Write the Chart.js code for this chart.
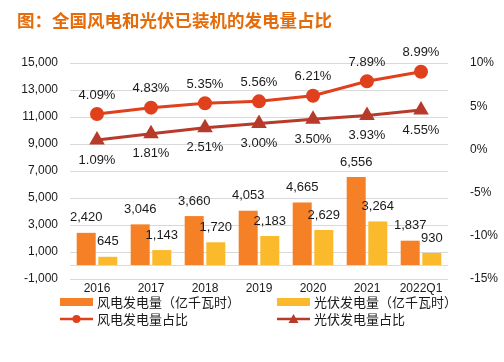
<!DOCTYPE html>
<html>
<head>
<meta charset="utf-8">
<script src="https://cdn.jsdelivr.net/npm/chart.js@4"></script>
<style>
  html, body { margin: 0; padding: 0; background: #fff; }
  #wrap { position: relative; width: 504px; height: 362px; }
</style>
</head>
<body>
<div id="wrap"><canvas id="chart" width="504" height="362"></canvas></div>
<script>
// Data
const titleText = '图：全国风电和光伏已装机的发电量占比';
const categories = ['2016', '2017', '2018', '2019', '2020', '2021', '2022Q1'];
const windOutput = [2420, 3046, 3660, 4053, 4665, 6556, 1837];
const solarOutput = [645, 1143, 1720, 2183, 2629, 3264, 930];
const windShare = [4.09, 4.83, 5.35, 5.56, 6.21, 7.89, 8.99];
const solarShare = [1.09, 1.81, 2.51, 3.00, 3.50, 3.93, 4.55];

const numFont = '"Liberation Sans", Arial, sans-serif';
const cjkFont = '"Noto Sans CJK SC", sans-serif';

const colors = {
    windBar: '#F58025',
    solarBar: '#FBBA2B',
    windLine: '#E0401C',
    solarLine: '#B83A2A',
    title: '#E46C0A',
    grid: '#D9D9D9',
    text: '#1a1a1a'
};

// Draws value labels, title and the two-column legend
const decorPlugin = {
    id: 'decor',
    afterDatasetsDraw(chart) {
        const ctx = chart.ctx;
        ctx.save();
        ctx.font = '13px ' + numFont;
        ctx.fillStyle = colors.text;
        ctx.textAlign = 'center';
        ctx.textBaseline = 'middle';
        chart.data.datasets.forEach((ds, i) => {
            const meta = chart.getDatasetMeta(i);
            meta.data.forEach((el, j) => {
                const v = ds.data[j];
                let text, y;
                if (ds.type === 'bar') {
                    text = v.toLocaleString('en-US');
                    y = el.y - 15;
                } else {
                    text = v.toFixed(2) + '%';
                    y = ds.labelBelow ? el.y + 20 : el.y - 19;
                }
                ctx.fillText(text, el.x, y);
            });
        });
        ctx.restore();
    },
    afterDraw(chart) {
        const ctx = chart.ctx;
        ctx.save();
        // title
        ctx.font = 'bold 17.5px ' + cjkFont;
        ctx.fillStyle = colors.title;
        ctx.textAlign = 'left';
        ctx.textBaseline = 'middle';
        ctx.fillText(titleText, 17, 20);

        // legend
        const cols = [60, 277];
        const rows = [302, 319];
        ctx.font = '13px ' + cjkFont;
        chart.data.datasets.forEach((ds, i) => {
            const x = cols[i % 2];
            const y = rows[Math.floor(i / 2)];
            if (ds.type === 'bar') {
                ctx.fillStyle = ds.backgroundColor;
                ctx.fillRect(x, y - 4, 33, 8);
            } else {
                ctx.strokeStyle = ds.borderColor;
                ctx.lineWidth = 2.5;
                ctx.beginPath();
                ctx.moveTo(x, y);
                ctx.lineTo(x + 33, y);
                ctx.stroke();
                ctx.fillStyle = ds.borderColor;
                ctx.beginPath();
                if (ds.pointStyle === 'triangle') {
                    ctx.moveTo(x + 16.5, y - 5);
                    ctx.lineTo(x + 21.5, y + 4);
                    ctx.lineTo(x + 11.5, y + 4);
                    ctx.closePath();
                } else {
                    ctx.arc(x + 16.5, y, 4, 0, Math.PI * 2);
                }
                ctx.fill();
            }
            ctx.fillStyle = colors.text;
            ctx.fillText(ds.label, x + 37, y);
        });
        ctx.restore();
    }
};

new Chart(document.getElementById('chart'), {
    data: {
        labels: categories,
        datasets: [
            {
                type: 'bar',
                label: '风电发电量（亿千瓦时）',
                data: windOutput,
                backgroundColor: colors.windBar,
                yAxisID: 'y',
                barPercentage: 0.88,
                categoryPercentage: 0.8,
                order: 2
            },
            {
                type: 'bar',
                label: '光伏发电量（亿千瓦时）',
                data: solarOutput,
                backgroundColor: colors.solarBar,
                yAxisID: 'y',
                barPercentage: 0.88,
                categoryPercentage: 0.8,
                order: 2
            },
            {
                type: 'line',
                label: '风电发电量占比',
                data: windShare,
                borderColor: colors.windLine,
                backgroundColor: colors.windLine,
                borderWidth: 3,
                pointRadius: 5.5,
                pointStyle: 'circle',
                yAxisID: 'y1',
                order: 1
            },
            {
                type: 'line',
                label: '光伏发电量占比',
                data: solarShare,
                borderColor: colors.solarLine,
                backgroundColor: colors.solarLine,
                borderWidth: 3,
                pointRadius: 6,
                pointStyle: 'triangle',
                labelBelow: true,
                yAxisID: 'y1',
                order: 1
            }
        ]
    },
    options: {
        responsive: false,
        animation: false,
        layout: { padding: { top: 63, bottom: 67, left: 0, right: 0 } },
        plugins: {
            legend: { display: false },
            tooltip: { enabled: false }
        },
        scales: {
            x: {
                grid: { display: false, drawTicks: false },
                border: { display: false },
                ticks: { color: colors.text, font: { family: numFont, size: 12 }, padding: 2 },
                afterFit(scale) { scale.height = 16; }
            },
            y: {
                position: 'left',
                min: -1000,
                max: 15000,
                afterBuildTicks(scale) {
                    const ticks = [];
                    for (let v = -1000; v <= 15000; v += 2000) ticks.push({ value: v });
                    ticks.push({ value: 0 });
                    ticks.sort((a, b) => a.value - b.value);
                    scale.ticks = ticks;
                },
                grid: { color: colors.grid, lineWidth: 1, drawTicks: false },
                border: { display: false },
                ticks: {
                    color: colors.text,
                    font: { family: numFont, size: 12 },
                    padding: 12,
                    callback: v => v === 0 ? '' : v.toLocaleString('en-US')
                },
                afterFit(scale) { scale.width = 70; }
            },
            y1: {
                position: 'right',
                min: -15,
                max: 10,
                grid: { display: false },
                border: { display: false },
                ticks: {
                    stepSize: 5,
                    color: colors.text,
                    font: { family: numFont, size: 12 },
                    padding: 14,
                    callback: v => v + '%'
                },
                afterFit(scale) { scale.width = 56; }
            }
        }
    },
    plugins: [decorPlugin]
});
</script>
</body>
</html>
